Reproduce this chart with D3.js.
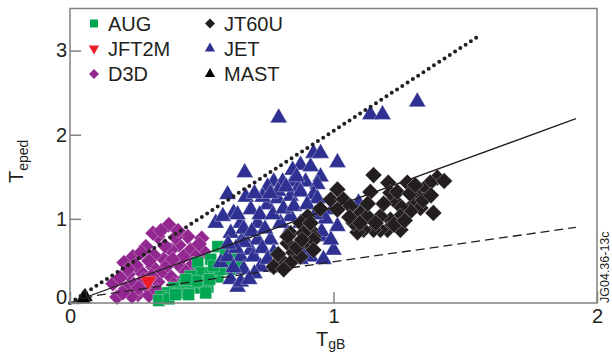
<!DOCTYPE html>
<html>
<head>
<meta charset="utf-8">
<script src="https://cdn.jsdelivr.net/npm/d3@7"></script>
<style>
  body { margin: 0; background: #fff; }
  text { font-family: "Liberation Sans", Arial, Helvetica, sans-serif; }
</style>
</head>
<body>
<div class="canvas"></div>
<script>
// data: [TgB, Teped]
var augData = [[0.561,0.67],[0.617,0.55],[0.583,0.43],[0.534,0.52],[0.485,0.48],[0.496,0.36],
  [0.458,0.32],[0.432,0.22],[0.394,0.18],[0.371,0.12],[0.345,0.08],[0.523,0.19],[0.561,0.31],
  [0.610,0.40],[0.470,0.18],[0.420,0.12],[0.337,0.03],[0.496,0.18],[0.621,0.52],[0.534,0.36],
  [0.508,0.24],[0.375,0.05],[0.45,0.10],[0.48,0.26],[0.53,0.28],[0.57,0.40],[0.59,0.49],
  [0.545,0.44],[0.44,0.28],[0.515,0.12],[0.40,0.10],[0.59,0.60],[0.64,0.47]];

var jft2mData = [[0.297,0.26]];

var d3dData = [[0.163,0.23],[0.258,0.10],[0.239,0.55],[0.288,0.67],[0.333,0.79],[0.375,0.93],
  [0.447,0.79],[0.413,0.69],[0.458,0.63],[0.508,0.61],[0.466,0.46],[0.420,0.43],[0.383,0.31],
  [0.356,0.52],[0.314,0.43],[0.269,0.37],[0.220,0.34],[0.205,0.48],[0.242,0.22],[0.333,0.25],
  [0.295,0.18],[0.420,0.25],[0.383,0.63],[0.318,0.57],[0.394,0.22],[0.477,0.55],[0.500,0.77],
  [0.235,0.08],[0.178,0.07],[0.315,0.83],[0.19,0.30],[0.21,0.17],[0.28,0.28],[0.30,0.50],
  [0.35,0.38],[0.36,0.68],[0.40,0.78],[0.43,0.55],[0.44,0.37],[0.27,0.60],[0.25,0.45],
  [0.31,0.32],[0.37,0.45],[0.49,0.70],[0.41,0.86],[0.345,0.86],[0.30,0.09],[0.20,0.12],
  [0.26,0.18],[0.33,0.15],[0.22,0.40],[0.39,0.52]];

var jt60uData = [[1.152,1.52],[1.140,1.32],[1.208,1.43],[1.280,1.43],[1.394,1.49],[1.367,1.43],
  [1.341,1.35],[1.318,1.27],[1.303,1.17],[1.330,1.13],[1.379,1.07],[1.292,1.09],[1.254,1.15],
  [1.227,1.23],[1.216,1.31],[1.242,1.32],[1.254,1.03],[1.216,0.99],[1.205,0.87],[1.254,0.87],
  [1.178,0.87],[1.178,1.03],[1.152,0.87],[1.114,0.87],[1.091,0.84],[1.076,0.95],[1.102,1.07],
  [1.129,1.03],[1.015,1.35],[0.989,1.23],[1.038,1.23],[1.064,1.15],[1.015,1.11],[0.902,1.03],
  [0.913,0.87],[0.924,0.79],[0.902,0.71],[0.875,0.95],[0.913,0.95],[0.837,0.83],[0.886,0.83],
  [0.924,0.75],[0.826,0.71],[0.848,0.60],[0.924,0.63],[0.799,0.52],[0.837,0.48],[0.773,0.43],
  [0.811,0.40],[0.875,0.55],[0.826,0.79],[1.10,0.95],[1.16,0.95],[1.23,0.93],[1.27,0.98],
  [1.34,1.22],[1.29,1.30],[1.19,1.18],[1.13,1.18],[1.06,1.02],[0.95,1.12],[0.86,0.66],
  [0.79,0.58],[0.88,0.75],[1.37,1.28],[1.42,1.45],[1.31,1.40]];

var jetData = [[0.792,2.20],[1.318,2.39],[1.140,2.24],[1.186,2.24],[0.663,1.55],[0.598,1.29],
  [0.924,1.78],[0.951,1.78],[1.015,1.67],[0.875,1.64],[0.913,1.62],[0.951,1.50],[0.894,1.44],
  [0.773,1.44],[0.807,1.44],[0.845,1.44],[0.750,1.38],[0.867,1.37],[0.939,1.41],[0.924,1.29],
  [0.667,1.26],[0.553,0.95],[0.621,1.07],[0.648,0.95],[0.686,1.11],[0.712,0.95],[0.750,1.17],
  [0.788,1.24],[0.837,1.27],[0.875,1.32],[0.939,1.24],[0.610,0.83],[0.659,0.78],[0.686,0.63],
  [0.648,0.55],[0.697,0.55],[0.723,0.43],[0.659,0.40],[0.610,0.28],[0.636,0.19],[0.761,0.75],
  [0.773,0.60],[0.712,0.75],[0.826,0.83],[0.902,0.63],[0.913,0.55],[0.951,0.79],[1.000,0.63],
  [0.962,0.52],[1.015,0.91],[0.837,1.03],[0.875,0.95],[0.799,0.95],[1.095,1.19],[0.875,0.52],
  [0.572,0.48],[0.580,1.03],[0.636,1.05],[0.598,0.55],[0.659,0.72],[0.659,0.88],[0.648,0.25],
  [0.845,1.58],[0.996,1.11],[0.731,1.26],[0.788,0.42],[0.955,0.85],[0.70,1.30],[0.72,1.05],
  [0.69,0.85],[0.74,0.88],[0.77,1.05],[0.81,1.12],[0.85,1.15],[0.90,1.17],[0.86,1.50],
  [0.79,1.33],[0.73,0.65],[0.75,0.52],[0.70,0.35],[0.68,0.28],[0.63,0.65],[0.60,0.70],
  [0.62,0.42],[0.97,1.00],[0.99,0.75],[0.93,1.05],[0.82,1.38],[0.76,1.30]];

var mastData = [[0.057,0.075],[0.050,0.05]];

// reference lines
var dottedLine = [[0, 0], [1.55, 3.17]];
var solidLine = [[0, 0], [1.92, 2.19]];
var dashedLine = [[0, 0], [0.1, 0.09], [1.92, 0.90]];

var xTicks = [0, 1, 2];
var yTicks = [0, 1, 2, 3];

var W = 612, H = 362;
var padL = 70, padR = 597, padT = 8.5, padB = 303;

var svg = d3.select(".canvas").append("svg").attr("width", W).attr("height", H);

var x = d3.scaleLinear().domain([0, 2]).range([padL, padR]);
var y = d3.scaleLinear().domain([0, 3.5]).range([padB, padT]);

var series = [
  {name: "D3D", data: d3dData, color: "#92278f", shape: d3.symbolSquare, size: 125, rot: 45},
  {name: "AUG", data: augData, color: "#00a651", shape: d3.symbolSquare, size: 140, rot: 0},
  {name: "JET", data: jetData, color: "#2e3192", shape: d3.symbolTriangle, size: 125, rot: 0},
  {name: "JT60U", data: jt60uData, color: "#231f20", shape: d3.symbolSquare, size: 140, rot: 45},
  {name: "JFT2M", data: jft2mData, color: "#ed1c24", shape: d3.symbolTriangle, size: 120, rot: 180},
  {name: "MAST", data: mastData, color: "#000000", shape: d3.symbolTriangle, size: 110, rot: 0}
];

series.forEach(function(s) {
  svg.append("g")
    .selectAll("path")
    .data(s.data)
    .enter()
    .append("path")
    .attr("d", d3.symbol().type(s.shape).size(s.size))
    .attr("transform", function(d) { return "translate(" + x(d[0]) + "," + y(d[1]) + ") rotate(" + s.rot + ")"; })
    .attr("fill", s.color)
    .attr("stroke", "#fff")
    .attr("stroke-width", 0.3);
});

var line = d3.line().x(function(d) { return x(d[0]); }).y(function(d) { return y(d[1]); });

svg.append("path").datum(dottedLine).attr("d", line)
  .attr("fill", "none").attr("stroke", "#231f20").attr("stroke-width", 4)
  .attr("stroke-linecap", "round").attr("stroke-dasharray", "0,6.3");
svg.append("path").datum(solidLine).attr("d", line)
  .attr("fill", "none").attr("stroke", "#231f20").attr("stroke-width", 1.3);
svg.append("path").datum(dashedLine).attr("d", line)
  .attr("fill", "none").attr("stroke", "#231f20").attr("stroke-width", 1.3)
  .attr("stroke-dasharray", "9,5");

// frame
svg.append("rect")
  .attr("x", padL).attr("y", padT).attr("width", padR - padL).attr("height", padB - padT)
  .attr("fill", "none").attr("stroke", "#808080").attr("stroke-width", 1.5);

var xAxis = d3.axisBottom(x).tickValues(xTicks).tickFormat(d3.format("d")).tickSize(-11).tickPadding(6);
var gx = svg.append("g").attr("transform", "translate(0," + padB + ")").call(xAxis);

var yAxis = d3.axisLeft(y).tickValues(yTicks).tickFormat(d3.format("d")).tickSize(-11).tickPadding(3);
var gy = svg.append("g").attr("transform", "translate(" + padL + ",0)").call(yAxis);

[gx, gy].forEach(function(g) {
  g.select(".domain").remove();
  g.selectAll(".tick line").attr("stroke", "#808080").attr("stroke-width", 1.5);
  g.selectAll(".tick text").attr("fill", "#231f20").style("font-size", "20px")
    .style("font-family", "'Liberation Sans', Arial, sans-serif");
});
gy.selectAll(".tick").filter(function(d) { return d === 0; }).select("text").attr("y", -6);

// axis titles
var xt = svg.append("text").attr("x", 316).attr("y", 346).attr("fill", "#231f20").style("font-size", "20px");
xt.append("tspan").text("T");
xt.append("tspan").attr("dy", 3).style("font-size", "14px").text("gB");

var yt = svg.append("text").attr("transform", "translate(23,183) rotate(-90)").attr("fill", "#231f20").style("font-size", "20px");
yt.append("tspan").text("T");
yt.append("tspan").attr("dy", 5).style("font-size", "14px").text("eped");

svg.append("text")
  .attr("transform", "translate(609,303) rotate(-90)")
  .attr("fill", "#231f20").style("font-size", "12.5px")
  .text("JG04.36-13c");

// legend
var legendItems = [
  {name: "AUG", color: "#00a651", shape: d3.symbolSquare, size: 64, rot: 0, col: 0, row: 0},
  {name: "JFT2M", color: "#ed1c24", shape: d3.symbolTriangle, size: 45, rot: 180, col: 0, row: 1},
  {name: "D3D", color: "#92278f", shape: d3.symbolSquare, size: 50, rot: 45, col: 0, row: 2},
  {name: "JT60U", color: "#231f20", shape: d3.symbolSquare, size: 50, rot: 45, col: 1, row: 0},
  {name: "JET", color: "#2e3192", shape: d3.symbolTriangle, size: 45, rot: 0, col: 1, row: 1},
  {name: "MAST", color: "#000000", shape: d3.symbolTriangle, size: 45, rot: 0, col: 1, row: 2}
];
var legendX = [94, 210], legendRowY = [23.5, 48.5, 74];

var lg = svg.append("g").selectAll("g").data(legendItems).enter().append("g")
  .attr("transform", function(d) { return "translate(" + legendX[d.col] + "," + legendRowY[d.row] + ")"; });
lg.append("path")
  .attr("d", function(d) { return d3.symbol().type(d.shape).size(d.size)(); })
  .attr("transform", function(d) { return "rotate(" + d.rot + ")"; })
  .attr("fill", function(d) { return d.color; });
lg.append("text").attr("x", 14).attr("y", 7).attr("fill", "#231f20").style("font-size", "20px")
  .text(function(d) { return d.name; });
</script>
</body>
</html>
